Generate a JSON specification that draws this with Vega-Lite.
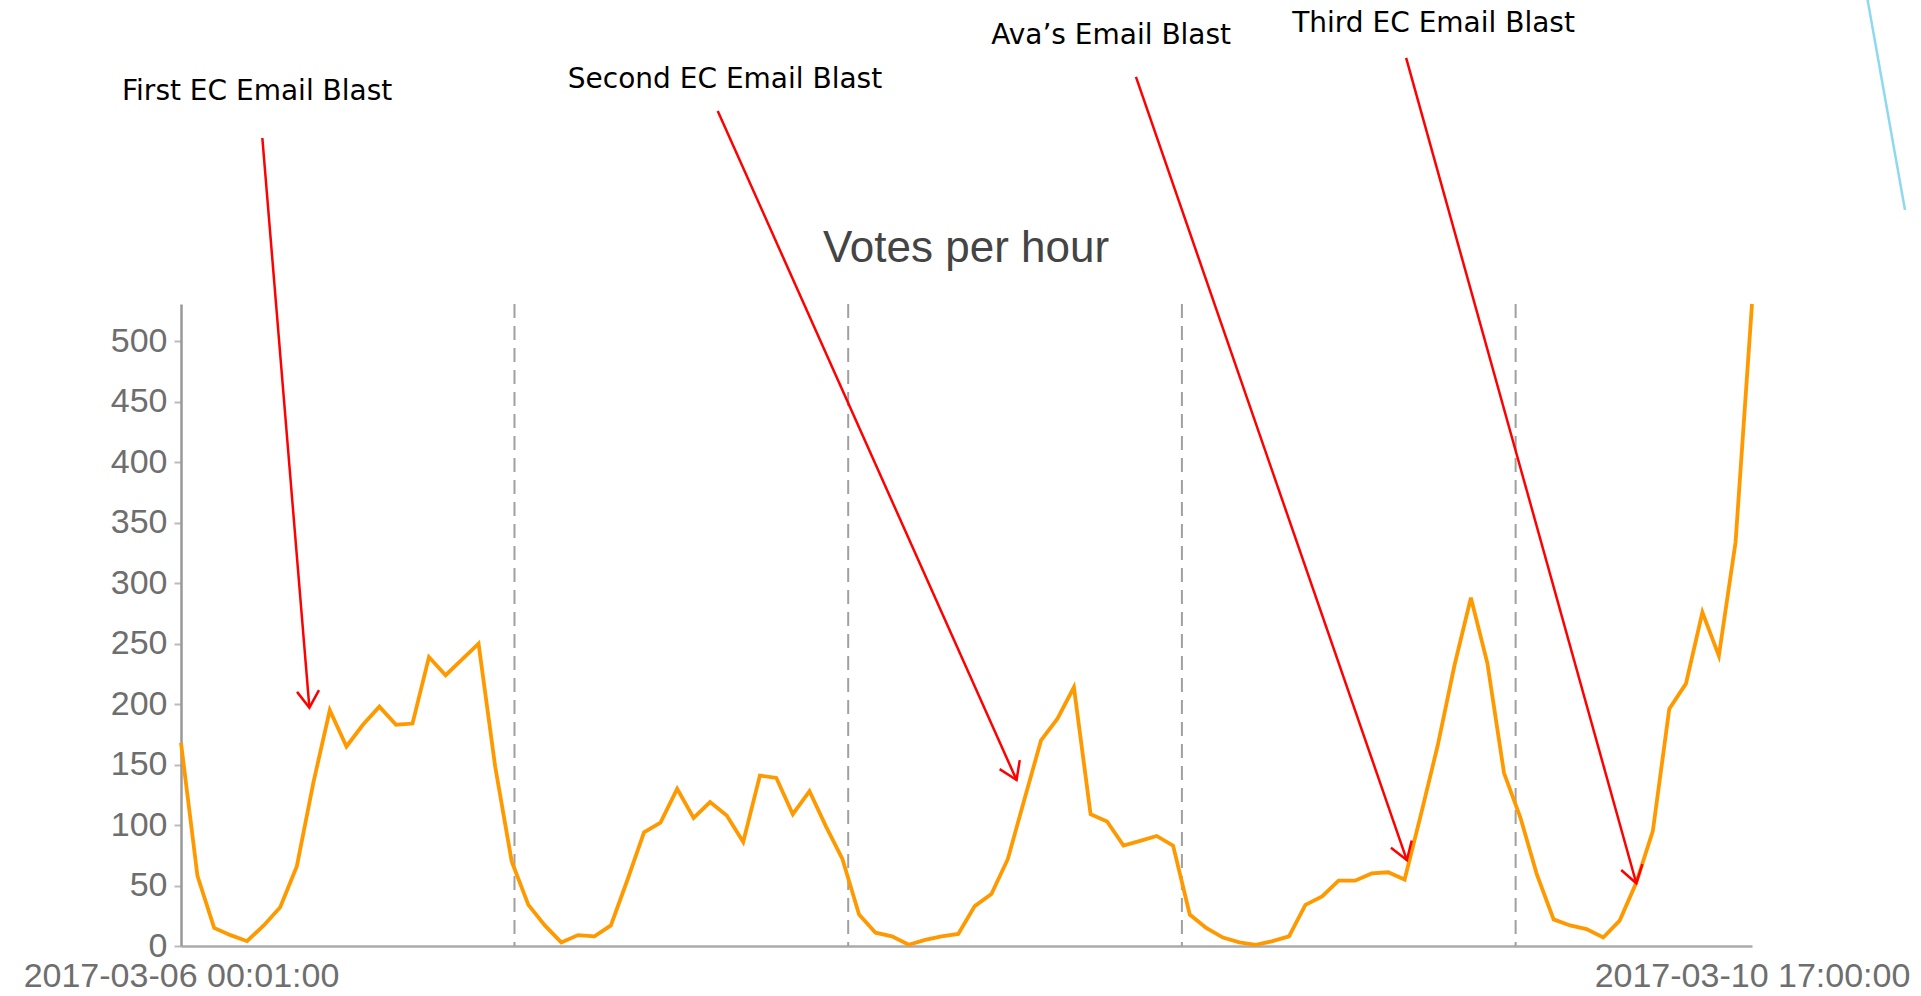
{
  "$schema": "https://vega.github.io/schema/vega-lite/v6.json",
  "autosize": {"type": "none"},
  "padding": {"left": 181, "top": 304, "right": 169, "bottom": 50},
  "width": 1571,
  "height": 642,
  "background": "white",
  "config": {"view": {"stroke": null}},
  "datasets": {
    "votes": [
      {"t": "2017-03-06T00:01:00", "v": 168}, {"t": "2017-03-06T01:12:00", "v": 58}, {"t": "2017-03-06T02:24:00", "v": 15},
      {"t": "2017-03-06T03:35:00", "v": 9}, {"t": "2017-03-06T04:46:00", "v": 4}, {"t": "2017-03-06T05:58:00", "v": 17},
      {"t": "2017-03-06T07:09:00", "v": 32}, {"t": "2017-03-06T08:21:00", "v": 66}, {"t": "2017-03-06T09:32:00", "v": 135},
      {"t": "2017-03-06T10:43:00", "v": 195}, {"t": "2017-03-06T11:55:00", "v": 165}, {"t": "2017-03-06T13:06:00", "v": 183},
      {"t": "2017-03-06T14:17:00", "v": 198}, {"t": "2017-03-06T15:29:00", "v": 183}, {"t": "2017-03-06T16:40:00", "v": 184},
      {"t": "2017-03-06T17:51:00", "v": 239}, {"t": "2017-03-06T19:03:00", "v": 224}, {"t": "2017-03-06T20:14:00", "v": 237},
      {"t": "2017-03-06T21:25:00", "v": 250}, {"t": "2017-03-06T22:37:00", "v": 148}, {"t": "2017-03-06T23:48:00", "v": 70},
      {"t": "2017-03-07T01:00:00", "v": 34}, {"t": "2017-03-07T02:11:00", "v": 17}, {"t": "2017-03-07T03:22:00", "v": 3},
      {"t": "2017-03-07T04:34:00", "v": 9}, {"t": "2017-03-07T05:45:00", "v": 8}, {"t": "2017-03-07T06:56:00", "v": 17},
      {"t": "2017-03-07T08:08:00", "v": 55}, {"t": "2017-03-07T09:19:00", "v": 94}, {"t": "2017-03-07T10:30:00", "v": 102},
      {"t": "2017-03-07T11:42:00", "v": 130}, {"t": "2017-03-07T12:53:00", "v": 106}, {"t": "2017-03-07T14:04:00", "v": 119},
      {"t": "2017-03-07T15:16:00", "v": 108}, {"t": "2017-03-07T16:27:00", "v": 86}, {"t": "2017-03-07T17:39:00", "v": 141},
      {"t": "2017-03-07T18:50:00", "v": 139}, {"t": "2017-03-07T20:01:00", "v": 109}, {"t": "2017-03-07T21:13:00", "v": 128},
      {"t": "2017-03-07T22:24:00", "v": 99}, {"t": "2017-03-07T23:35:00", "v": 72}, {"t": "2017-03-08T00:47:00", "v": 26},
      {"t": "2017-03-08T01:58:00", "v": 11}, {"t": "2017-03-08T03:09:00", "v": 8}, {"t": "2017-03-08T04:21:00", "v": 1},
      {"t": "2017-03-08T05:32:00", "v": 5}, {"t": "2017-03-08T06:43:00", "v": 8}, {"t": "2017-03-08T07:55:00", "v": 10},
      {"t": "2017-03-08T09:06:00", "v": 33}, {"t": "2017-03-08T10:18:00", "v": 43}, {"t": "2017-03-08T11:29:00", "v": 72},
      {"t": "2017-03-08T12:40:00", "v": 121}, {"t": "2017-03-08T13:52:00", "v": 170}, {"t": "2017-03-08T15:03:00", "v": 188},
      {"t": "2017-03-08T16:14:00", "v": 214}, {"t": "2017-03-08T17:26:00", "v": 109}, {"t": "2017-03-08T18:37:00", "v": 103},
      {"t": "2017-03-08T19:48:00", "v": 83}, {"t": "2017-03-08T21:00:00", "v": 87}, {"t": "2017-03-08T22:11:00", "v": 91},
      {"t": "2017-03-08T23:22:00", "v": 83}, {"t": "2017-03-09T00:34:00", "v": 26}, {"t": "2017-03-09T01:45:00", "v": 15},
      {"t": "2017-03-09T02:57:00", "v": 7}, {"t": "2017-03-09T04:08:00", "v": 3}, {"t": "2017-03-09T05:19:00", "v": 1},
      {"t": "2017-03-09T06:31:00", "v": 4}, {"t": "2017-03-09T07:42:00", "v": 8}, {"t": "2017-03-09T08:53:00", "v": 34},
      {"t": "2017-03-09T10:05:00", "v": 41}, {"t": "2017-03-09T11:16:00", "v": 54}, {"t": "2017-03-09T12:27:00", "v": 54},
      {"t": "2017-03-09T13:39:00", "v": 60}, {"t": "2017-03-09T14:50:00", "v": 61}, {"t": "2017-03-09T16:01:00", "v": 55},
      {"t": "2017-03-09T17:13:00", "v": 110}, {"t": "2017-03-09T18:24:00", "v": 166}, {"t": "2017-03-09T19:36:00", "v": 232},
      {"t": "2017-03-09T20:47:00", "v": 288}, {"t": "2017-03-09T21:58:00", "v": 234}, {"t": "2017-03-09T23:10:00", "v": 143},
      {"t": "2017-03-10T00:21:00", "v": 106}, {"t": "2017-03-10T01:32:00", "v": 59}, {"t": "2017-03-10T02:44:00", "v": 22},
      {"t": "2017-03-10T03:55:00", "v": 17}, {"t": "2017-03-10T05:06:00", "v": 14}, {"t": "2017-03-10T06:18:00", "v": 7},
      {"t": "2017-03-10T07:29:00", "v": 21}, {"t": "2017-03-10T08:40:00", "v": 52}, {"t": "2017-03-10T09:52:00", "v": 95},
      {"t": "2017-03-10T11:03:00", "v": 196}, {"t": "2017-03-10T12:15:00", "v": 217}, {"t": "2017-03-10T13:26:00", "v": 276},
      {"t": "2017-03-10T14:37:00", "v": 240}, {"t": "2017-03-10T15:49:00", "v": 334}, {"t": "2017-03-10T17:00:00", "v": 531}
    ],
    "days": [
      {"t": "2017-03-07T00:00:00"}, {"t": "2017-03-08T00:00:00"}, {"t": "2017-03-09T00:00:00"}, {"t": "2017-03-10T00:00:00"}
    ],
    "arrows": [
      {"label": "First EC Email Blast", "t1": "2017-03-06T05:52:00", "v1": 668.3, "t2": "2017-03-06T09:15:00", "v2": 197.1, "angle": -4.72},
      {"label": "Second EC Email Blast", "t1": "2017-03-07T14:37:00", "v1": 690.7, "t2": "2017-03-08T12:06:30", "v2": 137.3, "angle": -24.06},
      {"label": "Ava’s Email Blast", "t1": "2017-03-08T20:41:42", "v1": 718.8, "t2": "2017-03-09T16:10:36", "v2": 71.1, "angle": -19.07},
      {"label": "Third EC Email Blast", "t1": "2017-03-09T16:07:30", "v1": 734.5, "t2": "2017-03-10T08:40:42", "v2": 51.9, "angle": -15.58}
    ],
    "labels": [
      {"text": "First EC Email Blast", "t": "2017-03-06T05:29:36", "v": 699.8},
      {"text": "Second EC Email Blast", "t": "2017-03-07T15:08:18", "v": 709.7},
      {"text": "Ava’s Email Blast", "t": "2017-03-08T18:54:36", "v": 746},
      {"text": "Third EC Email Blast", "t": "2017-03-09T18:05:48", "v": 756}
    ],
    "title": [
      {"text": "Votes per hour", "t": "2017-03-08T08:28:24", "v": 566}
    ],
    "edge": [
      {"t1": "2017-03-11T01:15:00", "v1": 786.6, "t2": "2017-03-11T04:00:12", "v2": 608.8}
    ]
  },
  "layer": [
    {
      "data": {"name": "days"},
      "mark": {"type": "rule", "color": "#a0a0a0", "strokeWidth": 2, "strokeDash": [14, 8]},
      "encoding": {
        "x": {"field": "t", "type": "temporal"}
      }
    },
    {
      "data": {"name": "votes"},
      "mark": {"type": "line", "color": "#ff9900", "strokeWidth": 3.8, "strokeJoin": "miter"},
      "encoding": {
        "x": {
          "field": "t", "type": "temporal",
          "scale": {"domain": ["2017-03-06T00:01:00", "2017-03-10T17:00:00"], "nice": false},
          "axis": {
            "title": null,
            "values": ["2017-03-06T00:01:00", "2017-03-10T17:00:00"],
            "format": "%Y-%m-%d %H:%M:%S",
            "labelFlush": false,
            "labelOverlap": false,
            "labelBound": false,
            "labelLimit": 0,
            "ticks": false,
            "tickSize": 0,
            "labelPadding": 13,
            "grid": false,
            "domainColor": "#aaaaaa",
            "domainWidth": 2.5,
            "labelFont": "Liberation Sans",
            "labelFontSize": 34,
            "labelColor": "#6e6e6e"
          }
        },
        "y": {
          "field": "v", "type": "quantitative",
          "scale": {"domain": [0, 531], "nice": false, "zero": true},
          "axis": {
            "title": null,
            "values": [0, 50, 100, 150, 200, 250, 300, 350, 400, 450, 500],
            "grid": false,
            "domainColor": "#999999",
            "domainWidth": 2.5,
            "tickColor": "#bbbbbb",
            "tickWidth": 2,
            "tickSize": 7,
            "labelPadding": 7,
            "labelFont": "Liberation Sans",
            "labelFontSize": 34,
            "labelColor": "#6e6e6e"
          }
        }
      }
    },
    {
      "data": {"name": "arrows"},
      "mark": {"type": "rule", "color": "#ff0000", "strokeWidth": 2.5},
      "encoding": {
        "x": {"field": "t1", "type": "temporal"},
        "y": {"field": "v1", "type": "quantitative"},
        "x2": {"field": "t2"},
        "y2": {"field": "v2"}
      }
    },
    {
      "data": {"name": "arrows"},
      "mark": {"type": "point", "shape": "M-0.55,-0.84L0,0L0.55,-0.84", "filled": false, "stroke": "#ff0000", "strokeWidth": 2.5, "size": 1600, "opacity": 1},
      "encoding": {
        "x": {"field": "t2", "type": "temporal"},
        "y": {"field": "v2", "type": "quantitative"},
        "angle": {"field": "angle", "type": "quantitative", "scale": null}
      }
    },
    {
      "data": {"name": "labels"},
      "mark": {"type": "text", "font": "DejaVu Sans", "fontSize": 28, "color": "#000000", "align": "center", "baseline": "alphabetic"},
      "encoding": {
        "x": {"field": "t", "type": "temporal"},
        "y": {"field": "v", "type": "quantitative"},
        "text": {"field": "text"}
      }
    },
    {
      "data": {"name": "title"},
      "mark": {"type": "text", "font": "Liberation Sans", "fontSize": 44, "color": "#444444", "align": "center", "baseline": "alphabetic"},
      "encoding": {
        "x": {"field": "t", "type": "temporal"},
        "y": {"field": "v", "type": "quantitative"},
        "text": {"field": "text"}
      }
    },
    {
      "data": {"name": "edge"},
      "mark": {"type": "rule", "color": "#8fd8f2", "strokeWidth": 2.5},
      "encoding": {
        "x": {"field": "t1", "type": "temporal"},
        "y": {"field": "v1", "type": "quantitative"},
        "x2": {"field": "t2"},
        "y2": {"field": "v2"}
      }
    }
  ]
}
